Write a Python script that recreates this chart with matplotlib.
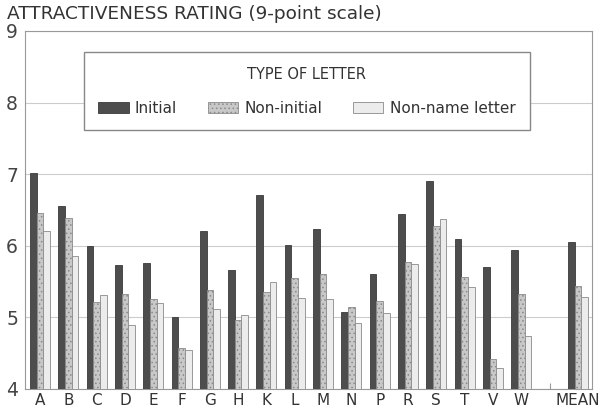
import matplotlib.pyplot as plt
import numpy as np

letters = ["A", "B", "C", "D", "E", "F", "G", "H", "K", "L", "M", "N", "P",
           "R", "S", "T", "V", "W", "", "MEAN"]
initial = [7.02, 6.56, 6.00, 5.73, 5.76, 5.00, 6.20, 5.66, 6.71, 6.01, 6.23,
           5.08, 5.60, 6.44, 6.91, 6.10, 5.70, 5.94, np.nan, 6.05]
non_initial = [6.46, 6.39, 5.22, 5.33, 5.26, 4.57, 5.38, 4.96, 5.36, 5.55, 5.61,
               5.15, 5.23, 5.77, 6.27, 5.57, 4.42, 5.33, np.nan, 5.44]
non_name = [6.21, 5.86, 5.31, 4.89, 5.20, 4.55, 5.12, 5.04, 5.50, 5.27, 5.26,
            4.92, 5.06, 5.75, 6.37, 5.42, 4.29, 4.74, np.nan, 5.28]

plt.rcParams['font.family'] = 'DejaVu Sans'
plt.rcParams['hatch.color'] = '#a8a8a8'
plt.rcParams['hatch.linewidth'] = 0.6
fig = plt.figure(figsize=(5.99, 4.16), dpi=100)
ax = fig.add_axes([25/599, 1 - 389/416, 567/599, 358/416])

x = np.arange(len(letters))
w = 0.235
ax.bar(x - w, initial, w, color='#4d4d4d', edgecolor='#3a3a3a', linewidth=0.6, label='Initial', zorder=3)
ax.bar(x, non_initial, w, color='#c8c8c8', edgecolor='#8a8a8a', linewidth=0.6, hatch='....', label='Non-initial', zorder=3)
ax.bar(x + w, non_name, w, color='#ececec', edgecolor='#8a8a8a', linewidth=0.6, label='Non-name letter', zorder=3)

# escalas
ax.set_ylim(4, 9)
ax.set_xlim(-0.53, 19.5)
ax.set_yticks([4, 5, 6, 7, 8, 9])
ax.set_xticks(x)
ax.set_xticklabels(letters, fontsize=11, color='#333333')
ax.tick_params(axis='y', length=0, labelsize=13.5, pad=5, labelcolor='#444444')
ax.tick_params(axis='x', direction='in', length=4, color='#999999', pad=3)
ax.grid(axis='y', color='#cccccc', linewidth=0.8, zorder=0)
for s in ax.spines.values():
    s.set_color('#999999')
    s.set_linewidth(0.8)

leg = ax.legend(loc='upper center', bbox_to_anchor=(0.497, 0.962), ncol=3,
                title='TYPE OF LETTER', fontsize=11, title_fontsize=10.5,
                frameon=True, fancybox=False, edgecolor='#888888',
                handlelength=2.0, handleheight=0.75, handletextpad=0.4,
                columnspacing=2.0, borderpad=0.95, labelspacing=1.25, framealpha=1)
leg.get_title().set_color('#333333')
for t in leg.get_texts():
    t.set_color('#333333')

fig.text(7/599, 1 - 14/416, "ATTRACTIVENESS RATING (9-point scale)", fontsize=13.3,
         color='#333333', va='center', ha='left')

plt.savefig('out.png', dpi=100)
